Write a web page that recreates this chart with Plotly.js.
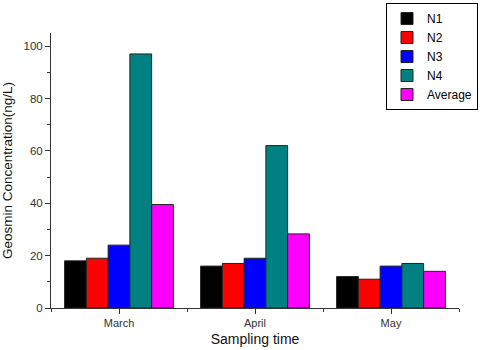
<!DOCTYPE html>
<html>
<head>
<meta charset="utf-8">
<script src="https://cdn.plot.ly/plotly-3.0.1.min.js"></script>
<style>html,body{margin:0;padding:0;background:#fff;}#chart{width:480px;height:350px;}</style>
</head>
<body>
<div id="chart"></div>
<script>
const categories = ["March", "April", "May"];
const seriesNames = ["N1", "N2", "N3", "N4", "Average"];
const N1 = [18, 16, 12];
const N2 = [19, 17, 11];
const N3 = [24, 19, 16];
const N4 = [97, 62, 17];
const Average = [39.5, 28.3, 14];
const yTicks = [0, 20, 40, 60, 80, 100];

const seriesValues = [N1, N2, N3, N4, Average];
const colors = ["#000000", "#ff0000", "#0000ff", "#008080", "#ff00ff"];

const traces = seriesValues.map((vals, i) => ({
  type: "bar",
  name: seriesNames[i],
  x: categories,
  y: vals,
  marker: {color: colors[i], line: {color: "#222", width: 1}}
}));

const layout = {
  width: 480, height: 350,
  margin: {l: 51, r: 21, t: 33, b: 42, autoexpand: false},
  paper_bgcolor: "#fff", plot_bgcolor: "#fff",
  barmode: "group", bargap: 0.2, bargroupgap: 0,
  font: {family: "Liberation Sans, Arial, sans-serif", size: 11, color: "#333"},
  xaxis: {
    type: "category",
    categoryarray: categories,
    range: [-0.5, 2.5],
    showline: true, linecolor: "#333", linewidth: 1,
    ticks: "outside", ticklen: 5, tickcolor: "#333",
    minor: {ticks: "outside", ticklen: 3, tickcolor: "#333", tickvals: [-0.5, 0.5, 1.5, 2.5]},
    showgrid: false, zeroline: false,
    tickfont: {size: 11, color: "#333"},
    title: {text: "Sampling time", font: {size: 14, color: "#111"}, standoff: 5}
  },
  yaxis: {
    range: [0, 105],
    tickvals: yTicks,
    showline: true, linecolor: "#333", linewidth: 1,
    ticks: "outside", ticklen: 5, tickcolor: "#333",
    minor: {ticks: "outside", ticklen: 3, dtick: 10, tickcolor: "#333"},
    showgrid: false, zeroline: false,
    tickfont: {size: 11.5, color: "#333"},
    title: {text: "Geosmin Concentration(ng/L)", font: {size: 13.5, color: "#111"}, standoff: 7}
  },
  legend: {
    x: 1.0466, xanchor: "right", xref: "paper",
    y: 1.109, yanchor: "top",
    bgcolor: "#fff", bordercolor: "#000", borderwidth: 1,
    font: {size: 12, color: "#000"},
    tracegroupgap: 0, itemwidth: 30
  },
  showlegend: true
};

Plotly.newPlot("chart", traces, layout, {displayModeBar: false, staticPlot: true});
</script>
</body>
</html>
